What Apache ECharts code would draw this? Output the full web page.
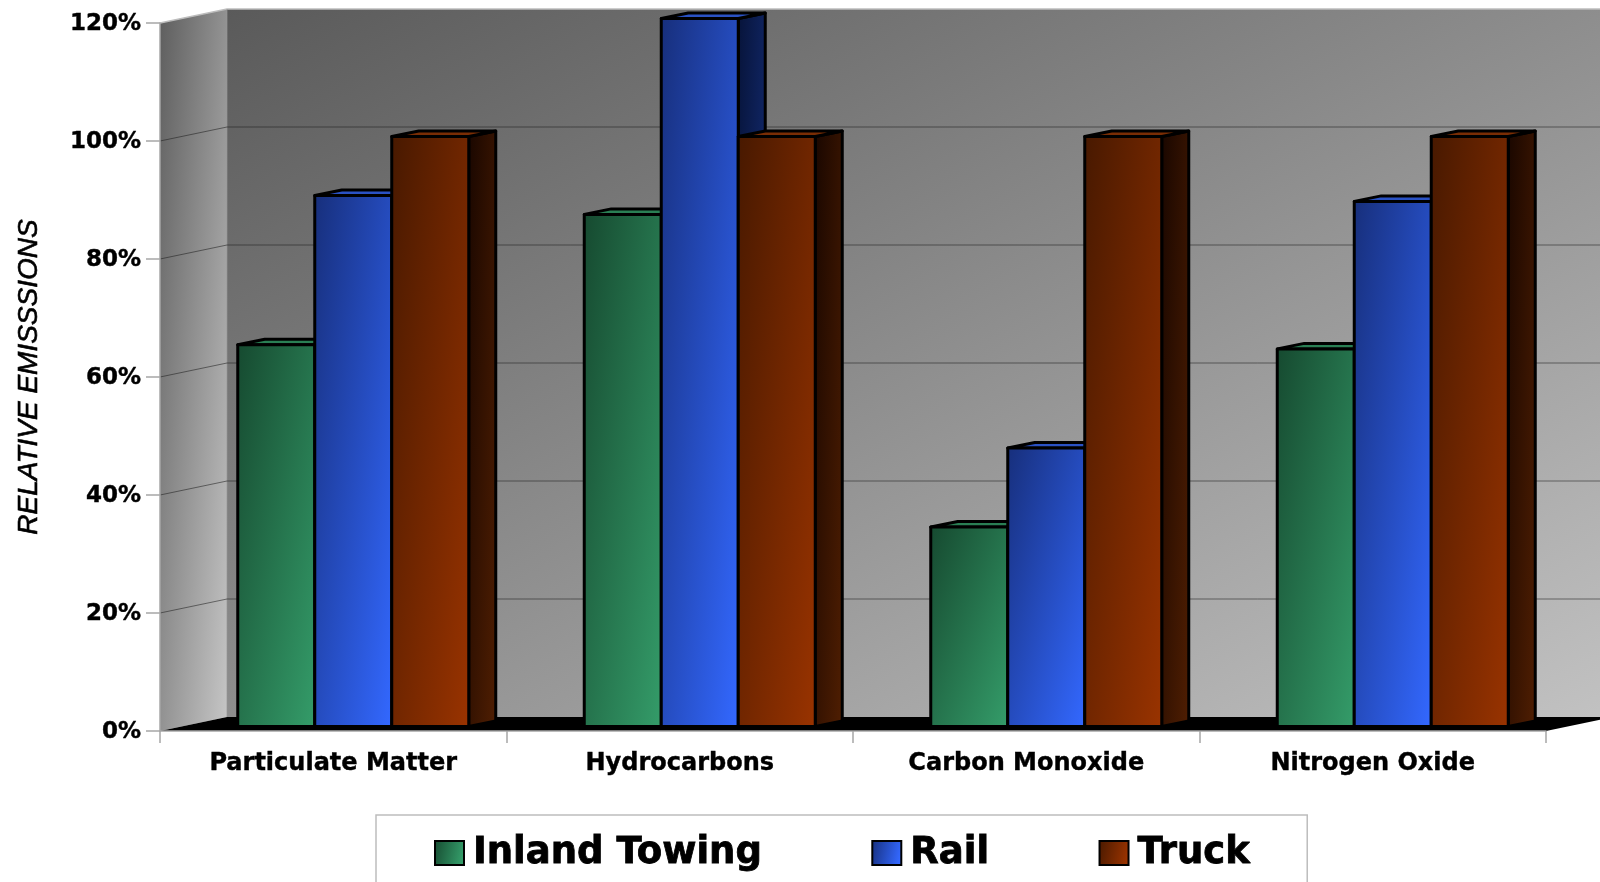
<!DOCTYPE html>
<html><head><meta charset="utf-8">
<style>html,body{margin:0;padding:0;background:#fff;overflow:hidden}#c{width:1600px;height:882px}</style>
<script src="https://cdn.jsdelivr.net/npm/echarts@6/dist/echarts.min.js"></script>
</head><body><div id="c"></div>
<script>
const categories = ['Particulate Matter', 'Hydrocarbons', 'Carbon Monoxide', 'Nitrogen Oxide'];
const inlandTowing = [64.7, 86.8, 33.8, 64];
const rail = [90, 120, 47.2, 89];
const truck = [100, 100, 100, 100];
const gridValues = [20, 40, 60, 80, 100];

const WALL_DX = 67, WALL_DY = 14;
const FRONT_DX = 20, FRONT_DY = 4.5, DEPTH_DX = 27, DEPTH_DY = 5.5;
const LABEL_FONT = '"DejaVu Sans"';

const chart = echarts.init(document.getElementById('c'), null, {renderer: 'canvas'});

function diag(x, y, w, h, c0, c1) {
  const k = 2 * w * h / (w * w + h * h);
  return new echarts.graphic.LinearGradient(x, y, x + k * h, y + k * w,
    [{offset: 0, color: c0}, {offset: 1, color: c1}], true);
}
function hgrad(c0, c1) {
  return new echarts.graphic.LinearGradient(0, 0, 1, 0.25,
    [{offset: 0, color: c0}, {offset: 1, color: c1}]);
}
function poly(points, fill, stroke, lw) {
  return {type: 'polygon', shape: {points},
    style: {fill, stroke: stroke || 'none', lineWidth: lw || 0, lineJoin: 'round'}};
}

function renderWalls(params, api) {
  const cs = params.coordSys;
  const L = cs.x, T = cs.y, R = cs.x + cs.width, B = cs.y + cs.height;
  const bL = L + WALL_DX, bR = R + WALL_DX, bT = T - WALL_DY, bB = B - WALL_DY;
  const kids = [];
  kids.push(poly([[bL, bT], [bR, bT], [bR, bB], [bL, bB]],
    diag(bL, bT, bR - bL, bB - bT, '#5a5a5a', '#c2c2c2')));
  kids.push(poly([[L, T], [bL, bT], [bL, bB], [L, B]],
    diag(L, bT, WALL_DX, B - bT, '#5e5e5e', '#c6c6c6')));
  kids.push(poly([[L, B], [bL, bB], [bR, bB], [R, B]], '#000'));
  kids.push({type: 'polyline', shape: {points: [[L, T], [bL, bT], [bR, bT]]},
    style: {fill: 'none', stroke: '#bdbdbd', lineWidth: 1.5}});
  kids.push({type: 'line', shape: {x1: bL, y1: bT, x2: bL, y2: bB},
    style: {stroke: 'rgba(150,150,150,0.7)', lineWidth: 1}});
  gridValues.forEach(v => {
    const y = api.coord([0, v])[1];
    kids.push({type: 'polyline', shape: {points: [[L, y], [bL, y - WALL_DY], [bR, y - WALL_DY]]},
      style: {fill: 'none', stroke: 'rgba(30,30,30,0.55)', lineWidth: 1}});
  });
  return {type: 'group', children: kids};
}

function barRenderer(slot, face, side, top) {
  return function (params, api) {
    const i = api.value(0), v = api.value(1);
    const base = api.coord([i, 0]), head = api.coord([i, v]);
    const w = api.size([1, 0])[0] / 4.5;
    const x0 = base[0] + (slot - 1.5) * w + FRONT_DX, x1 = x0 + w;
    const yB = base[1] - FRONT_DY, yT = head[1] - FRONT_DY;
    const dx = DEPTH_DX, dy = DEPTH_DY;
    const black = '#000', lw = 3;
    return {type: 'group', children: [
      poly([[x1, yT], [x1 + dx, yT - dy], [x1 + dx, yB - dy], [x1, yB]],
        diag(x1, yT - dy, dx, yB - yT + dy, side[0], side[1]), black, lw),
      poly([[x0, yT], [x0 + dx, yT - dy], [x1 + dx, yT - dy], [x1, yT]], top, black, lw),
      poly([[x0, yT], [x1, yT], [x1, yB], [x0, yB]],
        diag(x0, yT, w, yB - yT, face[0], face[1]), black, lw)
    ]};
  };
}

const palette = {
  'Inland Towing': {face: ['#164a30', '#349c69'], side: ['#0c2a1b', '#1d5c3c'], top: '#2a7f54'},
  'Rail': {face: ['#172f7c', '#3368ff'], side: ['#07143a', '#16307e'], top: '#2a52c4'},
  'Truck': {face: ['#481900', '#993300'], side: ['#1a0700', '#4f1e02'], top: '#7a2d04'}
};
const swatch = n => ({
  color: hgrad(palette[n].face[0], palette[n].face[1]), borderColor: '#000', borderWidth: 2
});
const makeSeries = (name, values, slot) => ({
  name, type: 'custom', z: 2, silent: true,
  encode: {x: 0, y: 1},
  itemStyle: swatch(name),
  data: values.map((v, i) => [i, v]),
  renderItem: barRenderer(slot, palette[name].face, palette[name].side, palette[name].top)
});

chart.setOption({
  animation: false,
  backgroundColor: '#fff',
  grid: {left: 160, right: 54, top: 23, bottom: 151, outerBoundsMode: 'none'},
  xAxis: {
    type: 'category', data: categories, z: 3, boundaryGap: true,
    axisLine: {show: true, lineStyle: {color: '#a6a6a6', width: 1.5}},
    axisTick: {show: true, alignWithLabel: false, length: 12, lineStyle: {color: '#a6a6a6', width: 1.5}},
    axisLabel: {color: '#000', fontFamily: LABEL_FONT, fontWeight: 'bold', fontSize: 24, margin: 21, interval: 0,
      textBorderColor: '#000', textBorderWidth: 0.4},
    splitLine: {show: false}
  },
  yAxis: {
    type: 'value', min: 0, max: 120, interval: 20, z: 3,
    name: 'RELATIVE EMISSSIONS', nameLocation: 'middle', nameRotate: 90, nameGap: 117,
    nameTextStyle: {color: '#000', fontFamily: '"Liberation Sans"', fontStyle: 'italic', fontSize: 28,
      textBorderColor: '#000', textBorderWidth: 0.6},
    axisLine: {show: true, lineStyle: {color: '#a6a6a6', width: 1.5}},
    axisTick: {show: true, length: 14, lineStyle: {color: '#a6a6a6', width: 1.5}},
    axisLabel: {margin: 19, formatter: v => '{t|' + v + '%}',
      rich: {t: {color: '#000', fontFamily: LABEL_FONT, fontWeight: 'bold', fontSize: 23, padding: [3, 0, 0, 0],
        textBorderColor: '#000', textBorderWidth: 0.4}}},
    splitLine: {show: false}
  },
  legend: {
    show: true, left: 376, top: 815, orient: 'horizontal',
    data: Object.keys(palette).map(n => ({name: n, icon: 'rect', itemStyle: swatch(n)})),
    itemWidth: 29, itemHeight: 24, itemGap: 109,
    padding: [19, 57, 46, 58],
    borderColor: '#bdbdbd', borderWidth: 1.5, backgroundColor: '#fff',
    textStyle: {color: '#000', fontFamily: LABEL_FONT, fontWeight: 'bold', fontSize: 37, padding: [0, 0, 0, 4],
      textBorderColor: '#000', textBorderWidth: 0.8}
  },
  series: [
    {type: 'custom', name: 'walls', z: 1, silent: true, encode: {x: 0, y: 1}, data: [[0, 0]], renderItem: renderWalls},
    makeSeries('Inland Towing', inlandTowing, 0),
    makeSeries('Rail', rail, 1),
    makeSeries('Truck', truck, 2)
  ]
});
</script></body></html>
